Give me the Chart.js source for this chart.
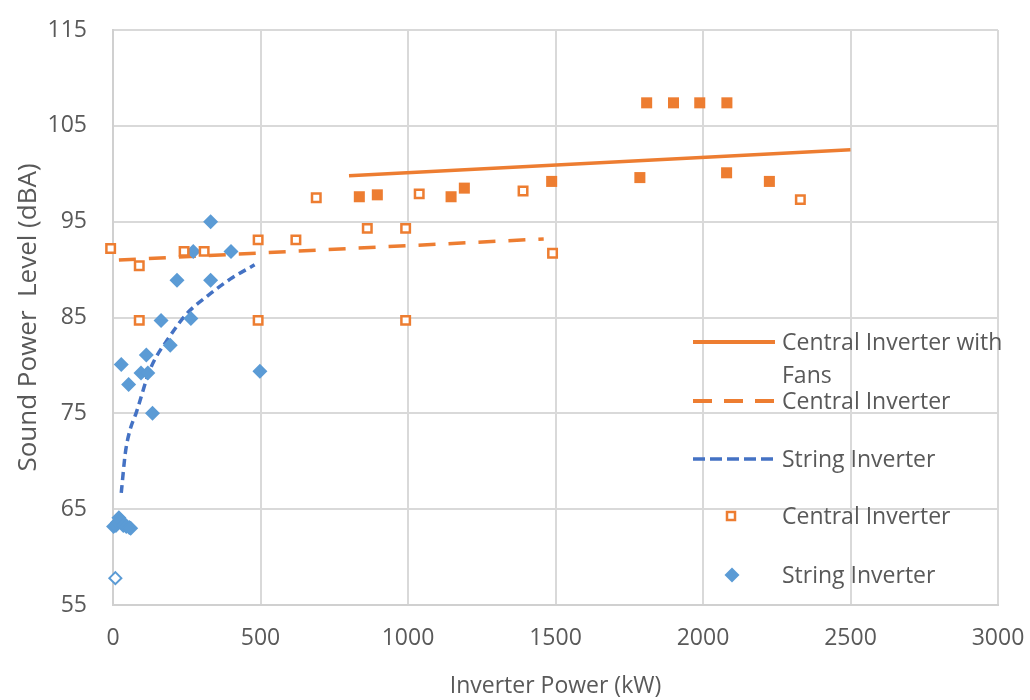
<!DOCTYPE html>
<html>
<head>
  <title>Sound Power Level vs Inverter Power</title>
  <script src="https://cdn.jsdelivr.net/npm/chart.js@4.4.0/dist/chart.umd.min.js"></script>
  <style>
    body { margin: 0; background: #fff; }
    #wrap { width: 1030px; height: 700px; }
  </style>
</head>
<body>
  <div id="wrap"><canvas id="noiseChart" width="1030" height="700"></canvas></div>

  <script>
    // measured points (kW, dBA)
    const centralPts = [
      {x: -8, y: 92.2}, {x: 89, y: 90.4}, {x: 89, y: 84.7}, {x: 241, y: 91.9},
      {x: 309, y: 91.9}, {x: 492, y: 93.1}, {x: 492, y: 84.7}, {x: 620, y: 93.1},
      {x: 689, y: 97.5}, {x: 862, y: 94.3}, {x: 992, y: 94.3}, {x: 992, y: 84.7},
      {x: 1038, y: 97.9}, {x: 1390, y: 98.2}, {x: 1490, y: 91.7}, {x: 2330, y: 97.3}
    ];
    const fansPts = [
      {x: 835, y: 97.6}, {x: 896, y: 97.8}, {x: 1146, y: 97.6}, {x: 1191, y: 98.5},
      {x: 1487, y: 99.2}, {x: 1786, y: 99.6}, {x: 1809, y: 107.4}, {x: 1900, y: 107.4},
      {x: 1989, y: 107.4}, {x: 2081, y: 107.4}, {x: 2080, y: 100.1}, {x: 2225, y: 99.2}
    ];
    const stringPts = [
      {x: 331, y: 95.0}, {x: 272, y: 91.9}, {x: 400, y: 91.9}, {x: 217, y: 88.9},
      {x: 331, y: 88.9}, {x: 163, y: 84.7}, {x: 264, y: 84.9}, {x: 194, y: 82.1},
      {x: 113, y: 81.1}, {x: 28, y: 80.1}, {x: 498, y: 79.4}, {x: 95, y: 79.2},
      {x: 118, y: 79.2}, {x: 53, y: 78.0}, {x: 134, y: 75.0},
      {x: 2, y: 63.2}, {x: 10, y: 63.3}, {x: 15, y: 63.6}, {x: 20, y: 64.1},
      {x: 28, y: 63.8}, {x: 35, y: 63.3}, {x: 45, y: 63.2}, {x: 55, y: 63.1}, {x: 60, y: 63.0}
    ];
    const stringOpenPts = [{x: 8, y: 57.8}];

    // trend lines
    const fansTrend = [{x: 800, y: 99.8}, {x: 2500, y: 102.5}];
    const centralTrend = [{x: 20, y: 91.0}, {x: 1460, y: 93.2}];
    const stringTrend = [
      {x: 28, y: 66.7}, {x: 42, y: 70.9}, {x: 58, y: 73.3}, {x: 78, y: 75.0},
      {x: 126, y: 79.6}, {x: 194, y: 83.1}, {x: 250, y: 85.4}, {x: 318, y: 87.2},
      {x: 397, y: 89.0}, {x: 480, y: 90.5}
    ];

    const xTicks = [0, 500, 1000, 1500, 2000, 2500, 3000];
    const yTicks = [55, 65, 75, 85, 95, 105, 115];

    const ORANGE = '#ED7D31';
    const BLUE = '#5B9BD5';
    const BLUE_DARK = '#4472C4';
    const GREY_TXT = '#595959';
    const FONT = "'Open Sans', sans-serif";

    // legend drawn inside the plot, like the original
    const legendRows = [
      {lines: ['Central Inverter with', 'Fans'], kind: 'solid', y: 342},
      {lines: ['Central Inverter'], kind: 'dash', y: 401},
      {lines: ['String Inverter'], kind: 'dot', y: 459},
      {lines: ['Central Inverter'], kind: 'square', y: 516},
      {lines: ['String Inverter'], kind: 'diamond', y: 575}
    ];

    const insideLegend = {
      id: 'insideLegend',
      afterDraw(chart) {
        const ctx = chart.ctx;
        ctx.save();
        legendRows.forEach(row => {
          ctx.setLineDash([]);
          if (row.kind === 'solid' || row.kind === 'dash' || row.kind === 'dot') {
            ctx.beginPath();
            ctx.strokeStyle = row.kind === 'dot' ? BLUE_DARK : ORANGE;
            ctx.lineWidth = row.kind === 'dot' ? 3.5 : 4;
            if (row.kind === 'dash') ctx.setLineDash([19, 12]);
            if (row.kind === 'dot') ctx.setLineDash([12, 5]);
            ctx.moveTo(693, row.y);
            ctx.lineTo(775, row.y);
            ctx.stroke();
          } else if (row.kind === 'square') {
            ctx.fillStyle = '#fff';
            ctx.strokeStyle = ORANGE;
            ctx.lineWidth = 2.5;
            ctx.fillRect(727, row.y - 4, 8, 8);
            ctx.strokeRect(727, row.y - 4, 8, 8);
          } else if (row.kind === 'diamond') {
            ctx.fillStyle = BLUE;
            ctx.beginPath();
            ctx.moveTo(732, row.y - 7.5);
            ctx.lineTo(739.5, row.y);
            ctx.lineTo(732, row.y + 7.5);
            ctx.lineTo(724.5, row.y);
            ctx.closePath();
            ctx.fill();
          }
          ctx.fillStyle = GREY_TXT;
          ctx.font = "23px " + FONT;
          ctx.textBaseline = 'middle';
          ctx.textAlign = 'left';
          row.lines.forEach((t, i) => ctx.fillText(t, 782, row.y + 1 + i * 33));
        });
        ctx.restore();
      }
    };

    new Chart(document.getElementById('noiseChart'), {
      type: 'scatter',
      data: {
        datasets: [
          {
            label: 'Central Inverter',
            data: centralPts,
            pointStyle: 'rect',
            pointRadius: 6,
            borderWidth: 2.5,
            borderColor: ORANGE,
            backgroundColor: '#fff',
            clip: false
          },
          {
            label: 'Central Inverter with Fans (points)',
            data: fansPts,
            pointStyle: 'rect',
            pointRadius: 7.8,
            borderWidth: 0,
            backgroundColor: ORANGE,
            clip: false
          },
          {
            label: 'String Inverter',
            data: stringPts,
            pointStyle: 'rectRot',
            pointRadius: 7.5,
            borderWidth: 0,
            backgroundColor: BLUE,
            clip: false
          },
          {
            label: 'String Inverter (open)',
            data: stringOpenPts,
            pointStyle: 'rectRot',
            pointRadius: 6,
            borderWidth: 2,
            borderColor: BLUE,
            backgroundColor: '#fff',
            clip: false
          },
          {
            label: 'Central Inverter with Fans',
            data: fansTrend,
            showLine: true,
            pointRadius: 0,
            borderColor: ORANGE,
            borderWidth: 3.5
          },
          {
            label: 'Central Inverter trend',
            data: centralTrend,
            showLine: true,
            pointRadius: 0,
            borderColor: ORANGE,
            borderWidth: 3.5,
            borderDash: [17, 13]
          },
          {
            label: 'String Inverter trend',
            data: stringTrend,
            showLine: true,
            pointRadius: 0,
            borderColor: BLUE_DARK,
            borderWidth: 3.5,
            borderDash: [8, 5],
            cubicInterpolationMode: 'monotone'
          }
        ]
      },
      options: {
        responsive: false,
        animation: false,
        layout: { padding: { top: 30, right: 32, bottom: 0, left: 0 } },
        plugins: {
          legend: { display: false },
          tooltip: { enabled: false }
        },
        scales: {
          x: {
            type: 'linear',
            min: 0,
            max: 3000,
            afterBuildTicks: s => { s.ticks = xTicks.map(v => ({value: v})); },
            afterFit: s => { s.height = 95; s.paddingLeft = 0; s.paddingRight = 0; },
            grid: { color: '#d9d9d9', lineWidth: 2, drawTicks: false },
            border: { color: '#d0d0d0', width: 2 },
            ticks: {
              color: GREY_TXT, font: { family: FONT, size: 23 }, padding: 20, maxRotation: 0,
              callback: v => String(v)
            },
            title: {
              display: true,
              text: 'Inverter Power (kW)',
              color: GREY_TXT,
              font: { family: FONT, size: 23 },
              padding: { top: 0, bottom: 0 }
            }
          },
          y: {
            min: 55,
            max: 115,
            afterBuildTicks: s => { s.ticks = yTicks.map(v => ({value: v})); },
            afterFit: s => { s.width = 113; s.paddingTop = 0; s.paddingBottom = 0; },
            grid: { color: '#d9d9d9', lineWidth: 2, drawTicks: false },
            border: { color: '#d0d0d0', width: 2 },
            ticks: { color: GREY_TXT, font: { family: FONT, size: 23 }, padding: 26 },
            title: {
              display: true,
              text: 'Sound Power  Level (dBA)',
              color: GREY_TXT,
              font: { family: FONT, size: 26 },
              padding: { top: 13, bottom: 0 }
            }
          }
        }
      },
      plugins: [insideLegend]
    });
  </script>
</body>
</html>
